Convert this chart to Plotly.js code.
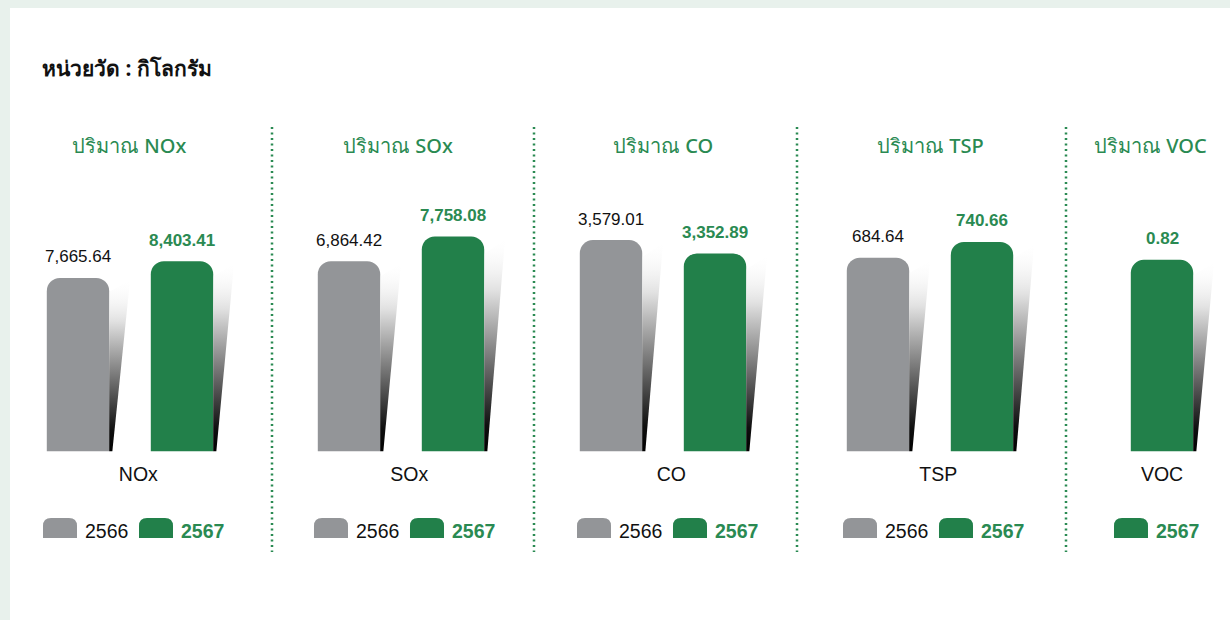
<!DOCTYPE html>
<html>
<head>
<meta charset="utf-8">
<script src="https://cdn.plot.ly/plotly-3.0.1.min.js"></script>
<style>
html,body{margin:0;padding:0;background:#e8f1ec;}
#chart{width:1230px;height:620px;}
</style>
</head>
<body>
<div id="chart"></div>
<script>
// ---------- data ----------
const pollutants = ['NOx', 'SOx', 'CO', 'TSP', 'VOC'];
const panelTitles = ['ปริมาณ NOx', 'ปริมาณ SOx', 'ปริมาณ CO', 'ปริมาณ TSP', 'ปริมาณ VOC'];
const years = ['2566', '2567'];
const values2566 = [7665.64, 6864.42, 3579.01, 684.64, null];
const values2567 = [8403.41, 7758.08, 3352.89, 740.66, 0.82];
const unitLabel = 'หน่วยวัด : กิโลกรัม';

// ---------- style / layout constants ----------
const W = 1230, H = 620;
const GRAY = '#939598', GREEN = '#22804a', TXTGREEN = '#2a8a52';
const FONT = 'Liberation Sans, Arial, Noto Sans, sans-serif';
const unitPx = 104;                 // pixels between the two bars
const grayCenterPx = [78, 349, 611, 878, 1058];
const yMax = [11104, 9074, 4258, 889, 1.076];
const plotTopPx = 200, plotBottomPx = 451.5;
const titleCenterPx = [129, 398, 663, 930, 1150];
const tickPos = [0.58, 0.58, 0.58, 0.58, 1];
const legendLeftPx = [43, 314, 577, 843, 1018];
const dividerPx = [272, 534, 797, 1066];
const barWidth = 0.6;

const px2x = p => p / W;
const px2y = p => 1 - p / H;
const fmt = v => v.toLocaleString('en-US', {minimumFractionDigits: 2, maximumFractionDigits: 2});

const traces = [];
const layout = {
  width: W, height: H,
  margin: {l: 0, r: 0, t: 0, b: 0},
  paper_bgcolor: '#e8f1ec',
  plot_bgcolor: 'rgba(0,0,0,0)',
  barmode: 'overlay',
  showlegend: false,
  font: {family: FONT},
  shapes: [],
  annotations: []
};

// white card
layout.shapes.push({type: 'rect', xref: 'paper', yref: 'paper', layer: 'below',
  x0: px2x(10), x1: 1, y0: 0, y1: px2y(8), fillcolor: '#ffffff', line: {width: 0}});

const shadeScale = [[0, 'rgb(0,0,0)'], [0.12, 'rgb(15,15,15)'], [0.45, 'rgb(125,125,125)'], [0.75, 'rgb(225,225,225)'], [1, 'rgba(255,255,255,0)']];

function shadow(xa, ya, xc, v) {
  const xr = xc + barWidth / 2;
  return {
    type: 'scatter', xaxis: xa, yaxis: ya, mode: 'lines',
    x: [xr, xr + 0.03, xr + 0.2, xr, xr],
    y: [0, 0, v * 0.985, v * 0.92, 0],
    fill: 'toself', line: {width: 0, color: 'rgba(0,0,0,0)'},
    fillgradient: {type: 'vertical', colorscale: shadeScale, start: 0, stop: v},
    hoverinfo: 'skip', showlegend: false
  };
}

function roundTopPath(x0, x1, yt, yb, r) {
  const X = p => px2x(p).toFixed(5), Y = p => px2y(p).toFixed(5);
  return `M${X(x0)},${Y(yb)} L${X(x0)},${Y(yt + r)} Q${X(x0)},${Y(yt)} ${X(x0 + r)},${Y(yt)} ` +
         `L${X(x1 - r)},${Y(yt)} Q${X(x1)},${Y(yt)} ${X(x1)},${Y(yt + r)} L${X(x1)},${Y(yb)} Z`;
}

pollutants.forEach((name, i) => {
  const n = i + 1;
  const xa = n === 1 ? 'x' : 'x' + n;
  const ya = n === 1 ? 'y' : 'y' + n;
  const xKey = n === 1 ? 'xaxis' : 'xaxis' + n;
  const yKey = n === 1 ? 'yaxis' : 'yaxis' + n;
  const c0 = grayCenterPx[i];
  const xr = [-0.75, 1.5];
  layout[xKey] = {
    domain: [px2x(c0 + xr[0] * unitPx), px2x(c0 + xr[1] * unitPx)],
    range: xr, anchor: ya, showgrid: false, zeroline: false, showline: false,
    ticks: '', tickvals: [tickPos[i]], ticktext: [name],
    tickfont: {size: 19.5, color: '#111111', family: FONT},
    ticklabelstandoff: 9, fixedrange: true
  };
  layout[yKey] = {
    domain: [px2y(plotBottomPx), px2y(plotTopPx)],
    range: [0, yMax[i]], anchor: xa, showgrid: false, zeroline: false,
    showline: false, showticklabels: false, fixedrange: true
  };

  const series = [values2566[i], values2567[i]];
  const colors = [GRAY, GREEN];
  series.forEach((v, k) => {
    if (v === null || v === undefined) return;
    traces.push({
      type: 'bar', xaxis: xa, yaxis: ya, x: [k], y: [v], width: barWidth,
      name: years[k], marker: {color: colors[k], cornerradius: 13, line: {width: 0}},
      hovertemplate: years[k] + ': %{y:,.2f}<extra>' + name + '</extra>'
    });
    traces.push(shadow(xa, ya, k, v));
    layout.annotations.push({
      xref: xa, yref: ya, x: k, y: v, yshift: 21, showarrow: false,
      text: k === 1 ? '<b>' + fmt(v) + '</b>' : fmt(v),
      font: {size: 17, color: k === 1 ? TXTGREEN : '#111111', family: FONT},
      yanchor: 'middle', xanchor: 'center'
    });
  });

  // panel title
  layout.annotations.push({
    xref: 'paper', yref: 'paper', x: px2x(titleCenterPx[i]), y: px2y(145),
    text: panelTitles[i], showarrow: false, xanchor: 'center', yanchor: 'middle',
    font: {size: 20, color: TXTGREEN, family: 'Noto Sans, sans-serif', weight: 500}
  });

  // legend swatches
  series.forEach((v, k) => {
    if (v === null || v === undefined) return;
    const left = legendLeftPx[i] + k * 96;
    layout.shapes.push({type: 'path', xref: 'paper', yref: 'paper',
      path: roundTopPath(left, left + 34, 518, 538, 8), fillcolor: colors[k], line: {width: 0}});
    layout.annotations.push({
      xref: 'paper', yref: 'paper', x: px2x(left + 40), y: px2y(531),
      text: k === 1 ? '<b>' + years[k] + '</b>' : years[k], showarrow: false,
      xanchor: 'left', yanchor: 'middle',
      font: {size: 19.5, color: k === 1 ? TXTGREEN : '#111111', family: FONT}
    });
  });
});

// dotted dividers
dividerPx.forEach(p => {
  layout.shapes.push({type: 'line', xref: 'paper', yref: 'paper',
    x0: px2x(p), x1: px2x(p), y0: px2y(127), y1: px2y(552),
    line: {color: '#2a8a52', width: 2.5, dash: '2px,3.5px'}});
});

// unit label
layout.annotations.push({
  xref: 'paper', yref: 'paper', x: px2x(40), y: px2y(68), showarrow: false,
  xanchor: 'left', yanchor: 'middle', text: '<b>' + unitLabel + '</b>',
  font: {size: 21, color: '#111111', family: 'Noto Sans, sans-serif'}
});

Plotly.newPlot('chart', traces, layout, {displayModeBar: false, staticPlot: true});
</script>
</body>
</html>
